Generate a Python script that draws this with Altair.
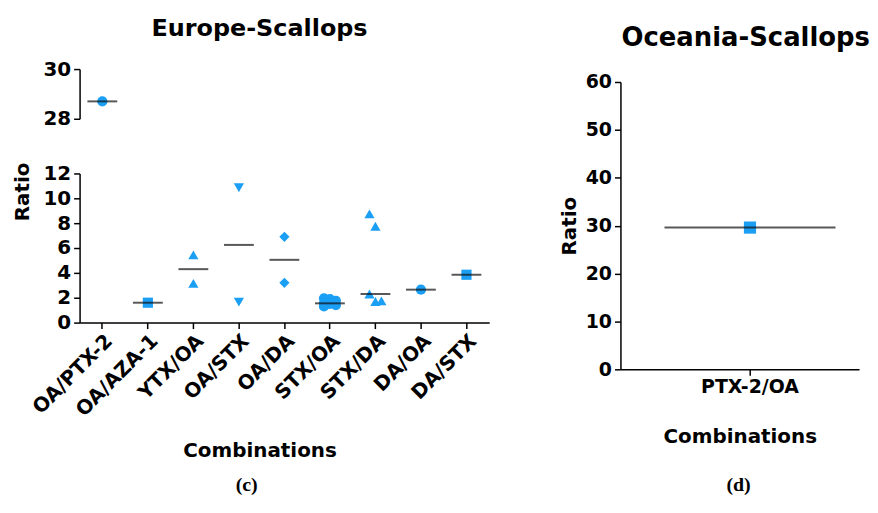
import altair as alt
import pandas as pd

# ---------------- data ----------------
categories = ["OA/PTX-2", "OA/AZA-1", "YTX/OA", "OA/STX", "OA/DA",
              "STX/OA", "STX/DA", "DA/OA", "DA/STX"]
marker_shapes = ["circle", "square", "triangle-up", "triangle-down", "diamond",
                 "circle", "triangle-up", "circle", "square"]

oa_ptx2 = [28.7]
oa_aza1 = [1.6]
ytx_oa = [5.45, 3.15]
oa_stx = [10.85, 1.65]
oa_da = [6.9, 3.2]
stx_oa = [1.95, 1.9, 1.75, 1.55, 1.5, 1.4, 1.3]
stx_da = [2.3, 1.7, 1.75, 8.75, 7.75]
da_oa = [2.65]
da_stx = [3.85]

oceania_categories = ["PTX-2/OA"]
ptx2_oa = [29.6]

europe_values = [oa_ptx2, oa_aza1, ytx_oa, oa_stx, oa_da, stx_oa, stx_da, da_oa, da_stx]
rows = []
for cat, vals in zip(categories, europe_values):
    for v in vals:
        rows.append({"category": cat, "ratio": v})
europe = pd.DataFrame(rows)
oceania = pd.DataFrame({"category": oceania_categories * len(ptx2_oa), "ratio": ptx2_oa})

# ---------------- style ----------------
BLUE = "#1A9FF5"
LINE = "#111111"
FONT = "DejaVu Sans"
SERIF = "Liberation Serif"

x_scale = alt.Scale(domain=categories, paddingInner=0, paddingOuter=0)
shape_scale = alt.Scale(domain=categories, range=marker_shapes)


def europe_segment(lo, hi, tick_values, height, bottom):
    base = alt.Chart(europe).transform_filter(
        f"datum.ratio >= {lo} && datum.ratio <= {hi}"
    )
    if bottom:
        x_axis = alt.Axis(title="Combinations", labelAngle=-45, labelAlign="right",
                          labelBaseline="top", labelFontSize=20, titlePadding=21,
                          titleX=181)
        y_axis = alt.Axis(values=tick_values, title="Ratio", titleY=18,
                          titlePadding=11, labelPadding=3, labelFontSize=20)
    else:
        x_axis = None
        y_axis = alt.Axis(values=tick_values, title=None, labelPadding=3,
                          labelFontSize=20)
    x = alt.X("category:N", scale=x_scale, axis=x_axis)
    pts = (
        base.transform_window(rn="row_number()", n="count()", groupby=["category"],
                              frame=[None, None])
        .transform_calculate(jit="datum.n > 2 ? ((datum.rn - 1) % 3 - 1) * 6 : 0")
        .mark_point(filled=True, opacity=1, size=105, color=BLUE)
        .encode(
            x=x,
            xOffset=alt.XOffset("jit:Q", scale=alt.Scale(domain=[-22.9, 22.9])),
            y=alt.Y("ratio:Q", scale=alt.Scale(domain=[lo, hi], nice=False), axis=y_axis),
            shape=alt.Shape("category:N", scale=shape_scale, legend=None),
        )
    )
    med = (
        base.transform_aggregate(med="median(ratio)", groupby=["category"])
        .mark_tick(color=LINE, thickness=2, size=30)
        .encode(x=x, y=alt.Y("med:Q", scale=alt.Scale(domain=[lo, hi], nice=False),
                             axis=y_axis))
    )
    return alt.layer(pts, med).properties(width=412, height=height)


top = europe_segment(28, 30, [28, 30], 50, False).properties(
    title=alt.Title("Europe-Scallops", fontSize=24, offset=18, anchor="middle", dx=-25)
)
bottom = europe_segment(0, 12, list(range(0, 13, 2)), 150, True)

left = alt.vconcat(top, bottom, spacing=33).properties(
    title=alt.Title("(c)", orient="bottom", anchor="middle", font=SERIF, fontSize=20,
                    fontWeight="bold", offset=15, dx=-4)
)

rx = alt.X("category:N",
           scale=alt.Scale(domain=oceania_categories, paddingInner=0, paddingOuter=0.2,
                           align=0.65),
           axis=alt.Axis(title="Combinations", labelAngle=0, labelAlign="center",
                         labelFontSize=19, titlePadding=31))
ry_scale = alt.Scale(domain=[0, 60], range=[302, 13])
ry_axis = alt.Axis(values=list(range(0, 61, 10)), title="Ratio", titlePadding=6,
                   labelPadding=3, labelFontSize=19)
right_pts = alt.Chart(oceania).mark_point(
    shape="square", filled=True, opacity=1, size=150, color=BLUE
).encode(x=rx, y=alt.Y("ratio:Q", scale=ry_scale, axis=ry_axis))
right_med = alt.Chart(oceania).transform_aggregate(
    med="median(ratio)", groupby=["category"]
).mark_tick(color=LINE, thickness=2, size=172).encode(
    x=rx, y=alt.Y("med:Q", scale=ry_scale, axis=ry_axis)
)
right_panel = alt.layer(right_pts, right_med).properties(
    width=240, height=302,
    title=alt.Title("Oceania-Scallops", fontSize=26, offset=18, anchor="middle", dx=6),
)
right = alt.vconcat(right_panel).properties(
    title=alt.Title("(d)", orient="bottom", anchor="middle", font=SERIF, fontSize=20,
                    fontWeight="bold", offset=28, dx=24)
)

chart = (
    alt.hconcat(left, right, spacing=70)
    .properties(padding={"left": 4, "top": 8, "right": 0, "bottom": 0})
    .configure_view(stroke=None)
    .configure_axis(
        domainColor="black", tickColor="black", domainWidth=1.5, tickWidth=1.5,
        tickSize=6, labelColor="black", labelFont=FONT, labelFontWeight="bold",
        labelFontSize=18, titleFont=FONT, titleFontWeight="bold", titleFontSize=20,
        titleColor="black", grid=False,
    )
    .configure_title(font=FONT, fontWeight="bold", color="black")
)

chart.save("out.html", embed_options={"renderer": "svg", "actions": False})
